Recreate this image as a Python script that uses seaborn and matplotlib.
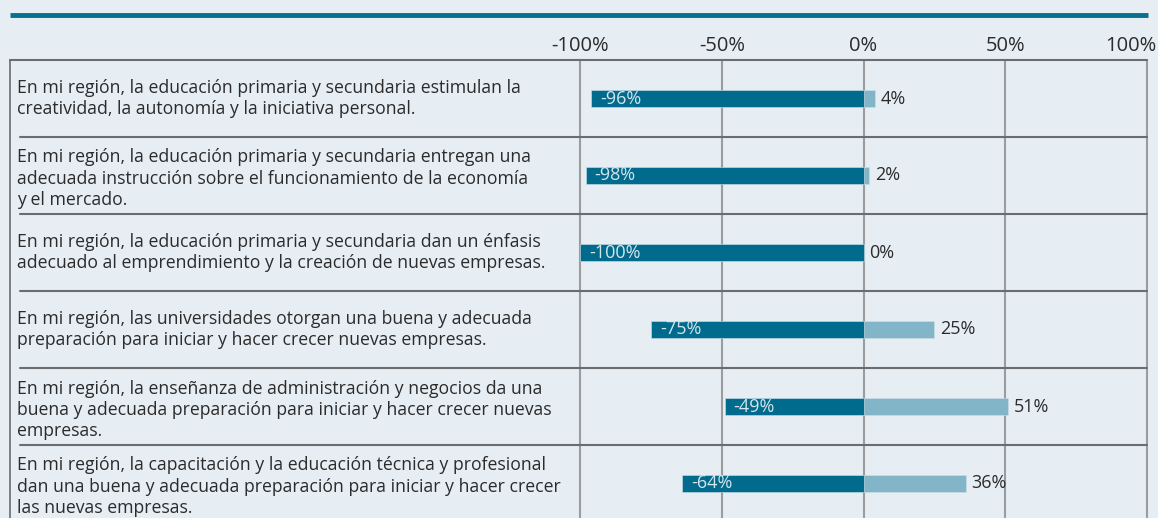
"""
Diverging bar table: opinions on entrepreneurship education in the region.
"""

import matplotlib
matplotlib.use("Agg")
import matplotlib.pyplot as plt
import matplotlib.transforms as mtransforms
from matplotlib.lines import Line2D
import seaborn as sns
import pandas as pd

# ── Data ──────────────────────────────────────────────────────────
statements = [
    "En mi región, la educación primaria y secundaria estimulan la\n"
    "creatividad, la autonomía y la iniciativa personal.",
    "En mi región, la educación primaria y secundaria entregan una\n"
    "adecuada instrucción sobre el funcionamiento de la economía\n"
    "y el mercado.",
    "En mi región, la educación primaria y secundaria dan un énfasis\n"
    "adecuado al emprendimiento y la creación de nuevas empresas.",
    "En mi región, las universidades otorgan una buena y adecuada\n"
    "preparación para iniciar y hacer crecer nuevas empresas.",
    "En mi región, la enseñanza de administración y negocios da una\n"
    "buena y adecuada preparación para iniciar y hacer crecer nuevas\n"
    "empresas.",
    "En mi región, la capacitación y la educación técnica y profesional\n"
    "dan una buena y adecuada preparación para iniciar y hacer crecer\n"
    "las nuevas empresas.",
]
disagree = [-96, -98, -100, -75, -49, -64]
agree = [4, 2, 0, 25, 51, 36]
ticks = [-100, -50, 0, 50, 100]

# ── Style ─────────────────────────────────────────────────────────
BG = "#e6eef4"
DARK = "#006b8c"
LIGHT = "#82b5c7"
GRID = "#9a9c9e"
LINE = "#6a6c6e"
TEXT = "#2b2b2b"

sns.set_theme(style="white")
plt.rcParams["font.family"] = ["Open Sans", "DejaVu Sans"]

W, H = 1158, 518
fig = plt.figure(figsize=(W / 100, H / 100), dpi=100, facecolor=BG)


def fx(px):
    return px / W


def fy(py):
    return 1 - py / H


# plot area: -100% at x=580, 100% at x=1147, rows of ~77px from y=60
x0, x1, y0, y1 = 580, 1147, 60, 522
ax = fig.add_axes([fx(x0), fy(y1), fx(x1 - x0), (y1 - y0) / H])
ax.set_facecolor(BG)

df = pd.DataFrame({"statement": statements, "neg": disagree, "pos": agree})
sns.barplot(data=df, y="statement", x="pos", color=LIGHT, saturation=1,
            width=0.23, errorbar=None, orient="h", ax=ax, zorder=2,
            edgecolor="#cfe1e9", linewidth=0.4)
sns.barplot(data=df, y="statement", x="neg", color=DARK, saturation=1,
            width=0.23, errorbar=None, orient="h", ax=ax, zorder=2,
            edgecolor="#cfe1e9", linewidth=0.4)

ax.set_xlim(-100, 100)
ax.set_ylim(len(statements) - 0.5, -0.5)
ax.set_xticks(ticks)
ax.set_xticklabels([f"{t}%" for t in ticks])
ax.xaxis.tick_top()
ax.tick_params(axis="x", length=0, pad=3, labelsize=14.5, labelcolor=TEXT)
ax.tick_params(axis="y", left=False, labelleft=False)
ax.set_xlabel("")
ax.set_ylabel("")
ax.grid(False)
for s in ax.spines.values():
    s.set_visible(False)
for t in ticks:
    ax.axvline(t, color=GRID, linewidth=1.5, zorder=1, clip_on=False)

# keep the last tick label inside the figure, as in the source
last = ax.get_xticklabels()[-1]
last.set_horizontalalignment("right")
last.set_transform(last.get_transform() +
                   mtransforms.ScaledTranslation(9 / 100, 0, fig.dpi_scale_trans))

# value labels
neg_off = mtransforms.offset_copy(ax.transData, fig=fig, x=9, y=0, units="dots")
pos_off = mtransforms.offset_copy(ax.transData, fig=fig, x=6, y=0, units="dots")
for i, (n, p) in enumerate(zip(disagree, agree)):
    ax.text(n, i, f"{n}%", transform=neg_off, ha="left", va="center",
            fontsize=13, color="#d4e5ec", zorder=3)
    ax.text(p, i, f"{p}%", transform=pos_off, ha="left", va="center",
            fontsize=13, color=TEXT, zorder=3)

# table frame and statement texts
blend = mtransforms.blended_transform_factory(fig.transFigure, ax.transData)
fig.add_artist(Line2D([fx(10), fx(1148)], [fy(15)] * 2, lw=3.5,
                      color="#0a6f8f", solid_capstyle="butt"))
fig.add_artist(Line2D([fx(10), fx(1147)], [-0.5, -0.5], transform=blend,
                      lw=1.5, color=LINE))
for k in range(1, len(statements)):
    fig.add_artist(Line2D([fx(20), fx(1147)], [k - 0.5, k - 0.5],
                          transform=blend, lw=1.5, color=LINE))
fig.add_artist(Line2D([fx(10), fx(10)], [fy(60), 0], lw=1.2, color=LINE))
for i, s in enumerate(statements):
    shift = 0.04 if s.count("\n") == 2 else 0.0
    fig.text(fx(17), i + shift, s, transform=blend, ha="left", va="center",
             fontsize=12.7, color=TEXT, linespacing=1.22)

fig.savefig("out.png", dpi=100, facecolor=BG)
